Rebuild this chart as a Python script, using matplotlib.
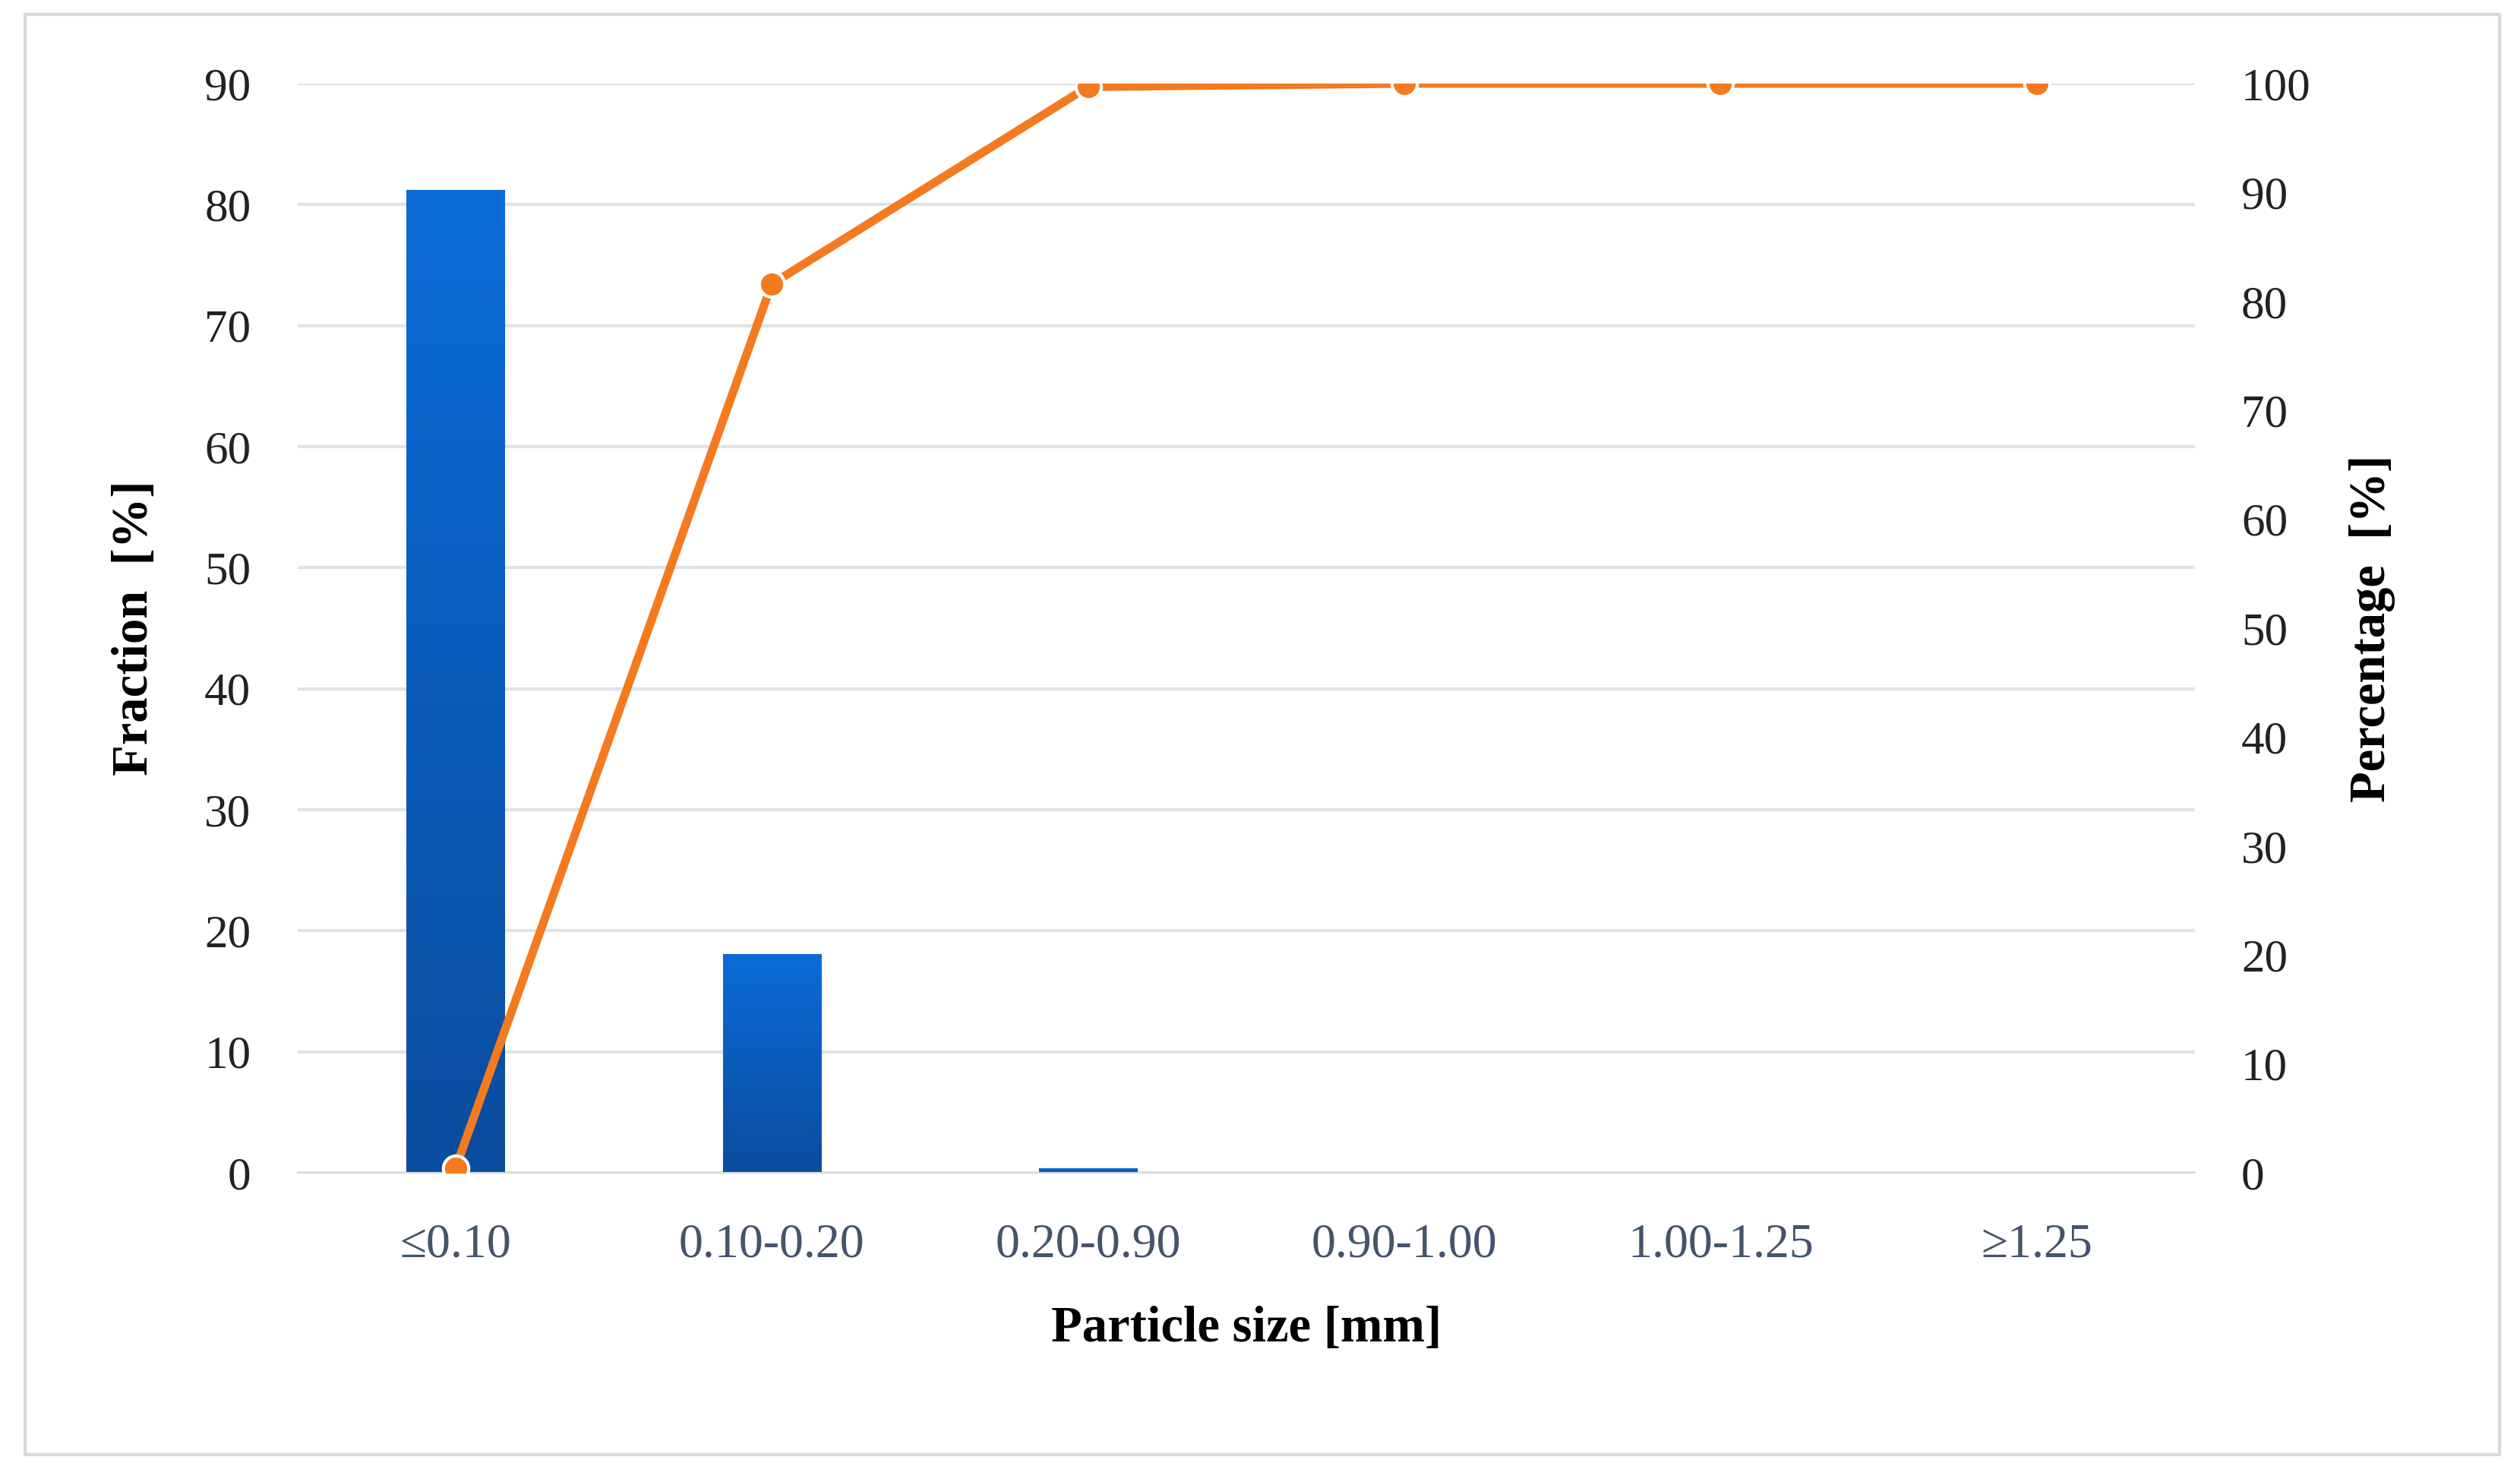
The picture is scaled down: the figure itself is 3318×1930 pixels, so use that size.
import matplotlib
matplotlib.use("Agg")
import matplotlib.pyplot as plt
import numpy as np
from matplotlib.patches import Rectangle
from matplotlib.colors import LinearSegmentedColormap

categories = ["≤0.10", "0.10-0.20", "0.20-0.90", "0.90-1.00", "1.00-1.25", "≥1.25"]
fraction = [81.2, 18.1, 0.4, 0.0, 0.0, 0.0]
percentage = [0.4, 81.6, 99.7, 100.0, 100.0, 100.0]

plt.rcParams['font.family'] = ['Liberation Serif', 'DejaVu Serif']
fig = plt.figure(figsize=(16.59, 9.65), dpi=200)
fig.patches.append(Rectangle((0.01, 0.008), 0.982, 0.982, transform=fig.transFigure,
                             fill=False, edgecolor='#d9d9d9', lw=1.5))
ax = fig.add_axes([0.118, 0.200, 0.753, 0.743])
x = np.arange(len(categories))
bars = ax.bar(x, fraction, width=0.31, color='none', zorder=2)
grad = np.linspace(0, 1, 256).reshape(-1, 1)
cmap = LinearSegmentedColormap.from_list('g', ['#0A4C9E', '#0A6CD8'])
for b in bars:
    if b.get_height() <= 0:
        continue
    im = ax.imshow(grad, extent=[b.get_x(), b.get_x() + b.get_width(), 0, b.get_height()],
                   origin='lower', aspect='auto', cmap=cmap, zorder=2)
    im.set_clip_path(b)
ax.set_xlim(-0.5, len(categories) - 0.5)
ax.set_ylim(0, 90)
ax.set_yticks(range(0, 91, 10))
ax.grid(axis='y', color='#dde3ea', lw=1.5, zorder=0)
for s in ['top', 'right', 'left']:
    ax.spines[s].set_visible(False)
ax.spines['bottom'].set_color('#d9d9d9')
ax.tick_params(axis='y', length=0, labelsize=22, colors='#222222', pad=22)
ax.tick_params(axis='x', length=0, labelsize=23, colors='#44546A', pad=24)
ax.set_xticks(x)
ax.set_xticklabels(categories)
ax.set_ylabel('Fraction  [%]', fontsize=24, fontweight='bold', labelpad=22)
ax.set_xlabel('Particle size [mm]', fontsize=24, fontweight='bold', labelpad=18)

ax2 = ax.twinx()
ax2.plot(x, percentage, color='#F47A20', lw=4, marker='o', markersize=12,
         markerfacecolor='#F47A20', markeredgecolor='white', markeredgewidth=1.5, zorder=3)
ax2.set_ylim(0, 100)
ax2.set_yticks(range(0, 101, 10))
for s in ax2.spines.values():
    s.set_visible(False)
ax2.tick_params(axis='y', length=0, labelsize=22, colors='#222222', pad=22)
ax2.set_ylabel('Percentage  [%]', fontsize=24, fontweight='bold', labelpad=18, rotation=90)
fig.savefig('out.png', dpi=200)
